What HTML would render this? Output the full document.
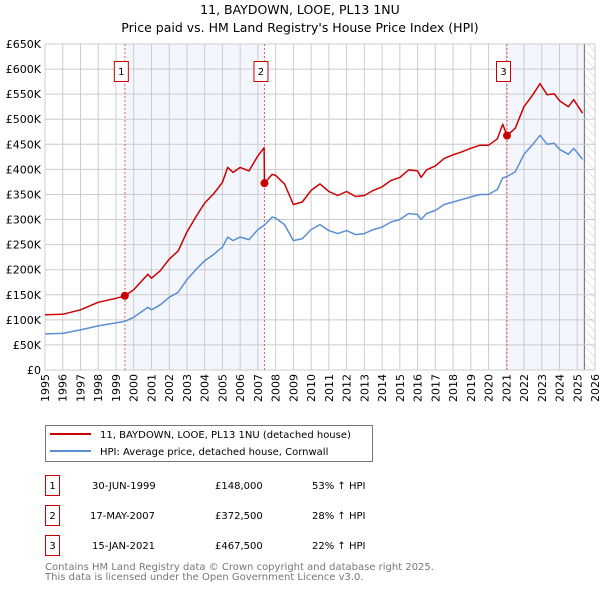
<!DOCTYPE html>
<html><head><meta charset="utf-8"><style>
body{margin:0;background:#fff;font-family:"DejaVu Sans","Liberation Sans",sans-serif;}
svg text{font-family:"DejaVu Sans","Liberation Sans",sans-serif;}
</style></head><body>
<svg id="c" width="600" height="590" viewBox="0 0 600 590">
<defs><pattern id="hatch" width="6" height="6" patternUnits="userSpaceOnUse" patternTransform="rotate(-45)"><line x1="0" y1="0" x2="0" y2="6" stroke="#ccc" stroke-width="1"/></pattern></defs>
<text x="300" y="14" text-anchor="middle" font-size="12.5">11, BAYDOWN, LOOE, PL13 1NU</text>
<text x="300" y="32" text-anchor="middle" font-size="12.5">Price paid vs. HM Land Registry's House Price Index (HPI)</text>
<g id="plot"></g>
<g>
<rect x="45.5" y="425.5" width="327" height="36" fill="#fff" stroke="#777"/>
<line x1="50" y1="434" x2="91" y2="434" stroke="#cc0000" stroke-width="2"/>
<text x="100" y="438" font-size="10">11, BAYDOWN, LOOE, PL13 1NU (detached house)</text>
<line x1="50" y1="451" x2="91" y2="451" stroke="#5b8fd4" stroke-width="2"/>
<text x="100" y="455" font-size="10">HPI: Average price, detached house, Cornwall</text>
</g>
<g font-size="10">
<rect x="45.5" y="475.5" width="14" height="20" fill="none" stroke="#cc0000"/><text x="52.5" y="489" text-anchor="middle">1</text>
<text x="92" y="489">30-JUN-1999</text><text x="215" y="489">£148,000</text><text x="312" y="489">53% ↑ HPI</text>
<rect x="45.5" y="505.5" width="14" height="20" fill="none" stroke="#cc0000"/><text x="52.5" y="519" text-anchor="middle">2</text>
<text x="90" y="519">17-MAY-2007</text><text x="215" y="519">£372,500</text><text x="312" y="519">28% ↑ HPI</text>
<rect x="45.5" y="535.5" width="14" height="20" fill="none" stroke="#cc0000"/><text x="52.5" y="549" text-anchor="middle">3</text>
<text x="92" y="549">15-JAN-2021</text><text x="215" y="549">£467,500</text><text x="312" y="549">22% ↑ HPI</text>
</g>
<text x="45" y="570" font-size="10" fill="#777">Contains HM Land Registry data © Crown copyright and database right 2025.</text>
<text x="45" y="580" font-size="10" fill="#777">This data is licensed under the Open Government Licence v3.0.</text>
</svg>
<script>
const hpiDates=[1995,1996,1997,1998,1999,1999.5,2000,2000.8,2001,2001.5,2002,2002.5,2003,2003.5,2004,2004.5,2005,2005.3,2005.6,2006,2006.5,2007,2007.4,2007.8,2008,2008.5,2009,2009.5,2010,2010.5,2011,2011.5,2012,2012.5,2013,2013.5,2014,2014.5,2015,2015.5,2016,2016.2,2016.5,2017,2017.5,2018,2018.5,2019,2019.5,2020,2020.5,2020.8,2021,2021.5,2022,2022.5,2022.9,2023.3,2023.7,2024,2024.5,2024.8,2025.3];
const hpiValues=[72,73,80,88,94,97,105,125,120,130,145,155,180,200,218,230,245,265,258,265,260,280,290,305,303,290,258,262,280,290,278,272,278,270,272,280,285,295,300,312,310,300,312,318,330,335,340,345,350,350,360,383,385,395,430,450,468,450,452,440,430,442,420];
const priceDates=[1995,1996,1997,1998,1999,1999.5,2000,2000.8,2001,2001.5,2002,2002.5,2003,2003.5,2004,2004.5,2005,2005.3,2005.6,2006,2006.5,2007,2007.35,2007.37,2007.8,2008,2008.5,2009,2009.5,2010,2010.5,2011,2011.5,2012,2012.5,2013,2013.5,2014,2014.5,2015,2015.5,2016,2016.2,2016.5,2017,2017.5,2018,2018.5,2019,2019.5,2020,2020.5,2020.8,2021.04,2021.5,2022,2022.5,2022.9,2023.3,2023.7,2024,2024.5,2024.8,2025.3];
const priceValues=[110,111,120,135,143,148,160,191,183,198,221,237,275,305,333,351,374,404,394,404,397,427,443,372.5,390,388,371,330,335,358,371,356,348,356,346,348,358,365,378,384,399,397,384,399,407,422,429,435,442,448,448,461,490,467.5,482,525,549,571,549,551,537,525,539,512];
const saleDates=[1999.5,2007.37,2021.04];
const saleValues=[148,372.5,467.5];
const saleLabels=['1','2','3'];
const yTicks=[0,50,100,150,200,250,300,350,400,450,500,550,600,650];
const yTickLabels=['£0','£50K','£100K','£150K','£200K','£250K','£300K','£350K','£400K','£450K','£500K','£550K','£600K','£650K'];
const xTicks=[1995,1996,1997,1998,1999,2000,2001,2002,2003,2004,2005,2006,2007,2008,2009,2010,2011,2012,2013,2014,2015,2016,2017,2018,2019,2020,2021,2022,2023,2024,2025,2026];

const L=45,R=595,T=44,B=370,x0=1995,x1=2026,yMax=650;
const X=d=>L+(d-x0)/(x1-x0)*(R-L);
const Y=v=>B-v/yMax*(B-T);
const NS='http://www.w3.org/2000/svg';
const g=document.getElementById('plot');
function mk(t,a,p){const e=document.createElementNS(NS,t);for(const k in a)e.setAttribute(k,a[k]);(p||g).appendChild(e);return e;}
let s=mk('rect',{x:X(saleDates[0]),y:T,width:X(saleDates[1])-X(saleDates[0]),height:B-T,fill:'#f3f6fd'});


s=mk('rect',{x:X(saleDates[2]),y:T,width:X(2025.4)-X(saleDates[2]),height:B-T,fill:'#f3f6fd'});


s=mk('rect',{x:X(2025.4),y:T,width:R-X(2025.4),height:B-T,fill:'url(#hatch)'});


mk('line',{x1:X(2025.4),y1:T,x2:X(2025.4),y2:B,stroke:'#666','stroke-width':1});
yTicks.forEach((v,i)=>{
  const y=Y(v);
  const ln=mk('line',{x1:L,y1:y,x2:R,y2:y,stroke:'#ccc','stroke-width':1});
  
  
  const t=mk('text',{x:L-4,y:y+4,'text-anchor':'end','font-size':11});
  t.textContent=yTickLabels[i];
  
  
});
xTicks.forEach(d=>{
  const x=X(d);
  const ln=mk('line',{x1:x,y1:T,x2:x,y2:B,stroke:'#ccc','stroke-width':1});
  
  
  const t=mk('text',{x:x+4,y:B+4,'text-anchor':'end','font-size':11,transform:`rotate(-90 ${x+4} ${B+4})`});
  t.textContent=d;
  
  
});
saleDates.forEach((d,i)=>{
  const ln=mk('line',{x1:X(d),y1:T,x2:X(d),y2:B,stroke:'#e06060','stroke-width':1,'stroke-dasharray':'2,2'});
  
  
  const r=mk('rect',{x:X(d)-10.5,y:61.5,width:14,height:20,fill:'#fff',stroke:'#cc0000'});
  
  
  const t=mk('text',{x:X(d)-3.5,y:75,'text-anchor':'middle','font-size':10});
  t.textContent=saleLabels[i];
  
  
});
function line(ds,vs,col,name){
  const p=mk('path',{d:ds.map((d,i)=>(i?'L':'M')+X(d).toFixed(1)+','+Y(vs[i]).toFixed(1)).join(''),fill:'none',stroke:col,'stroke-width':1.5,'stroke-linejoin':'round'});
  
  
}
line(hpiDates,hpiValues,'#5b8fd4','hpi-line');
line(priceDates,priceValues,'#cc0000','price-paid-line');
saleDates.forEach((d,i)=>{
  const c=mk('circle',{cx:X(d),cy:Y(saleValues[i]),r:4,fill:'#cc0000'});
  
  
});
</script>
</body></html>
